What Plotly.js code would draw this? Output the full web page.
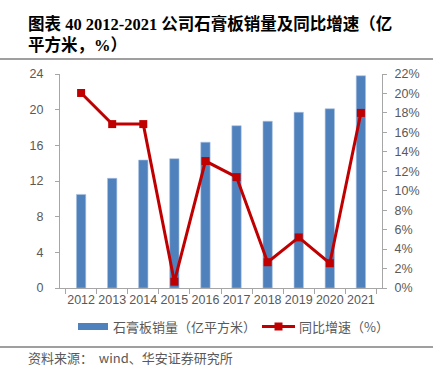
<!DOCTYPE html>
<html><head><meta charset="utf-8">
<script src="https://cdn.plot.ly/plotly-3.0.1.min.js"></script>
<style>html,body{margin:0;padding:0;background:#fff;}#chart{width:433px;height:367px;}</style>
</head><body><div id="chart"></div>
<script>
const years = ['2012','2013','2014','2015','2016','2017','2018','2019','2020','2021'];
const sales = [10.5, 12.3, 14.35, 14.5, 16.35, 18.2, 18.7, 19.7, 20.1, 23.8];
const growth = [20.05, 16.85, 16.85, 0.65, 13.05, 11.4, 2.65, 5.2, 2.55, 18.0];
const barName = '石膏板销量（亿平方米）';
const lineName = '同比增速（%）';
const titleText = '图表 40 2012-2021 公司石膏板销量及同比增速（亿<br>平方米，%）';
const sourceText = '资料来源：  wind、华安证券研究所';

const W = 433, H = 367;
const L = 60, R = 51, T = 74, B = 79;
const pw = W - L - R, ph = H - T - B;
const px = x => (x - L) / pw;
const py = y => (H - B - y) / ph;

const gray = '#595959';
const axisCol = '#A6A6A6';
const blue = '#4F81BD';
const red = '#C00000';
const numFont = 'Liberation Sans, Arial, sans-serif';
const cjkFont = 'Noto Sans CJK SC, sans-serif';
const titleFont = 'Liberation Serif, Noto Sans CJK SC, serif';

const traces = [
  {type:'bar', x: years, y: sales, name: barName, marker:{color: blue, line:{color:'#A9C1E0', width:0.6}}, showlegend:false, hoverinfo:'skip'},
  {type:'scatter', mode:'lines+markers', x: years, y: growth, yaxis:'y2', name: lineName,
   line:{color: red, width:3}, marker:{symbol:'square', size:8, color: red}, showlegend:false, hoverinfo:'skip'}
];

const layout = {
  width: W, height: H,
  margin:{l:L, r:R, t:T, b:B, pad:0},
  paper_bgcolor:'#fff', plot_bgcolor:'#fff',
  bargap: 0.7,
  font:{family: numFont, color: gray, size: 12.5},
  xaxis:{type:'category', showline:true, linecolor:axisCol, linewidth:1, ticks:'outside', tickson:'boundaries',
         ticklen:5, tickcolor:axisCol, showgrid:false, zeroline:false, tickangle:0,
         tickfont:{family:numFont, size:12.5, color:gray}},
  yaxis:{range:[0,24], dtick:4, showline:true, linecolor:axisCol, linewidth:1, ticks:'outside', ticklen:4, tickcolor:axisCol,
         showgrid:false, zeroline:false, ticklabelstandoff:9, tickfont:{family:numFont, size:12.5, color:gray}},
  yaxis2:{range:[0,22], dtick:2, overlaying:'y', side:'right', ticksuffix:'%', showline:true, linecolor:axisCol, linewidth:1,
          ticks:'outside', ticklen:4, tickcolor:axisCol, showgrid:false, zeroline:false, ticklabelstandoff:5,
          tickfont:{family:numFont, size:12.5, color:gray}},
  shapes:[
    {type:'line', xref:'paper', yref:'paper', x0:px(0), x1:px(433), y0:py(59), y1:py(59), line:{color:'#7F7F7F', width:1.5}},
    {type:'line', xref:'paper', yref:'paper', x0:px(0), x1:px(433), y0:py(347), y1:py(347), line:{color:'#7F7F7F', width:1.5}},
    {type:'rect', xref:'paper', yref:'paper', x0:px(78), x1:px(108), y0:py(330), y1:py(323), fillcolor:blue, line:{width:0}},
    {type:'line', xref:'paper', yref:'paper', x0:px(262), x1:px(295), y0:py(326.5), y1:py(326.5), line:{color:red, width:3}},
    {type:'rect', xref:'paper', yref:'paper', x0:px(274.5), x1:px(282.5), y0:py(330.5), y1:py(322.5), fillcolor:red, line:{width:0}}
  ],
  annotations:[
    {xref:'paper', yref:'paper', x:px(26), y:py(12), xanchor:'left', yanchor:'top', align:'left', showarrow:false,
     text:titleText, font:{family:titleFont, size:16.5, color:'#000', weight:'bold'}},
    {xref:'paper', yref:'paper', x:px(111), y:py(326.5), xanchor:'left', yanchor:'middle', showarrow:false,
     text:barName, font:{family:cjkFont, size:13, color:gray}},
    {xref:'paper', yref:'paper', x:px(297), y:py(326.5), xanchor:'left', yanchor:'middle', showarrow:false,
     text:lineName, font:{family:cjkFont, size:13, color:gray}},
    {xref:'paper', yref:'paper', x:px(26), y:py(357), xanchor:'left', yanchor:'middle', showarrow:false,
     text:sourceText, font:{family:cjkFont, size:13, color:gray}}
  ]
};
Plotly.newPlot('chart', traces, layout, {displayModeBar:false, staticPlot:true});
</script></body></html>
